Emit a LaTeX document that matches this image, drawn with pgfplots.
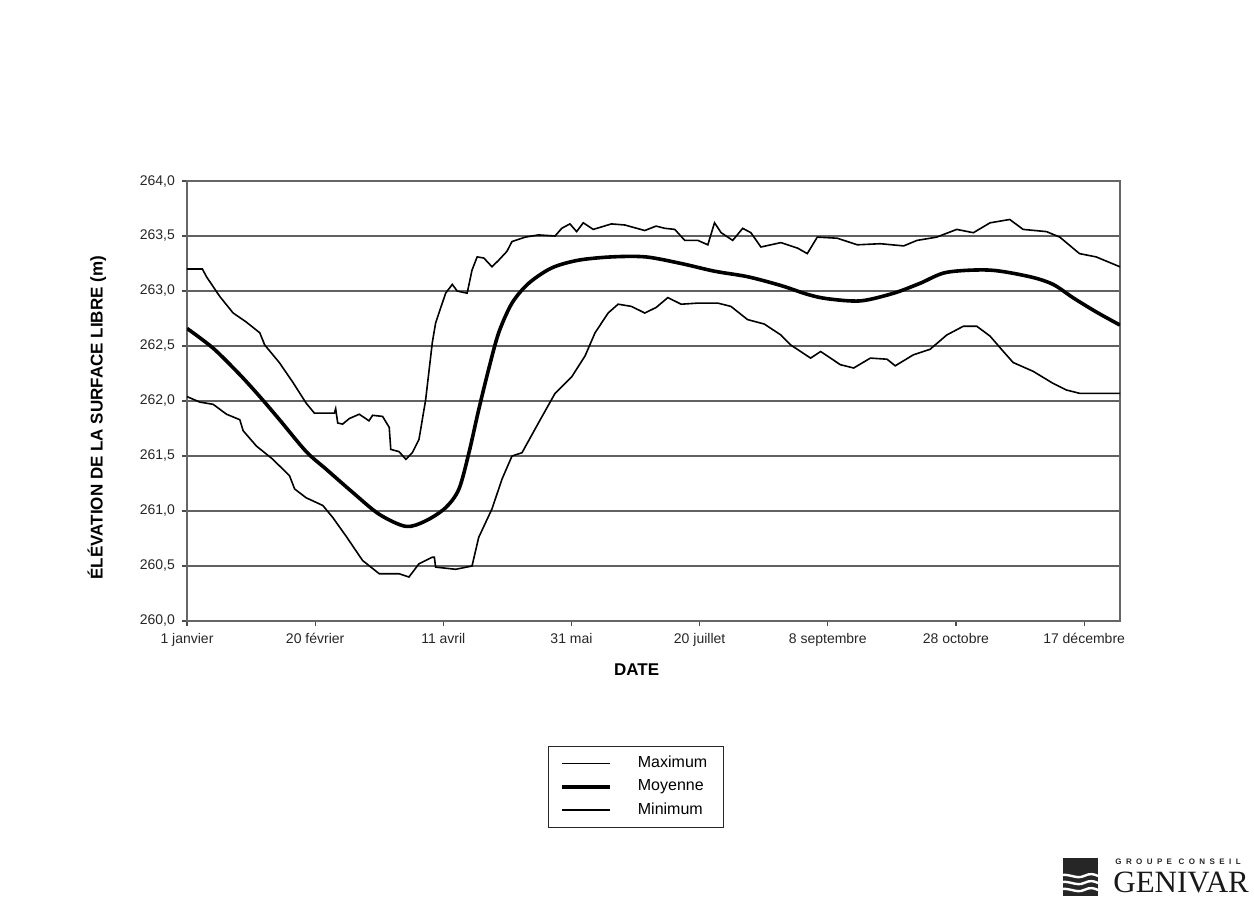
\documentclass[border=0pt]{standalone}
\usepackage{fontspec}
\setmainfont{Liberation Sans}
\newfontfamily\seriflogo{Liberation Serif}
\usepackage{pgfplots}
\pgfplotsset{compat=1.18}
\begin{document}
\begin{tikzpicture}
\useasboundingbox (0,0) rectangle (627pt,448pt);
\begin{axis}[
  at={(93.5pt,137.5pt)}, anchor=south west,
  width=466.5pt, height=220pt, scale only axis,
  xmin=1, xmax=365, ymin=260, ymax=264,
  xtick={1,51,101,151,201,251,301,351},
  xticklabels={1 janvier,20 février,11 avril,31 mai,20 juillet,8 septembre,28 octobre,17 décembre},
  ytick={260,260.5,261,261.5,262,262.5,263,263.5,264},
  yticklabel style={/pgf/number format/.cd,fixed,fixed zerofill,precision=1,use comma},
  /pgf/number format/assume math mode=true,
  tick label style={font=\fontsize{7}{8}\selectfont, black!85},
  tick align=outside, major tick length=2.5pt,
  tick style={black!70, line width=0.6pt},
  xtick pos=bottom, ytick pos=left,
  ymajorgrids, major grid style={black!62, line width=0.9pt},
  axis line style={black!60, line width=0.6pt},
  xlabel={DATE},
  ylabel={ÉLÉVATION DE LA SURFACE LIBRE (m)},
  label style={font=\bfseries\fontsize{8.5}{10}\selectfont},
  xlabel style={at={(axis description cs:0.482,-0.111)}, anchor=center},
  ylabel style={at={(axis description cs:-0.0965,0.462)}, anchor=center},
  legend style={at={(0.481,-0.377)}, anchor=center, draw=black!85, line width=0.6pt,
    font=\fontsize{8}{10}\selectfont, inner xsep=6pt, inner ysep=3pt, row sep=0.5pt,
    /tikz/every odd column/.append style={column sep=11pt}},
  legend cell align=left,
  legend image code/.code={\draw[#1] (0pt,0pt) -- (24pt,0pt);},
]
\addplot[black, line width=0.8pt] coordinates {
(1,263.20) (7,263.20) (8.6,263.13) (13.8,262.95) (19,262.80) (24,262.72) (29.4,262.62) (31.3,262.51) (37,262.35) (42.3,262.17) (47.5,261.98) (50.7,261.89) (58.5,261.89) (59,261.93) (59.8,261.80) (61.7,261.79) (64.3,261.84) (68.2,261.88) (72,261.82) (73.4,261.87) (77.3,261.86) (79.9,261.76) (80.5,261.56) (83.7,261.54) (86.4,261.47) (88.9,261.53) (91.5,261.65) (94.1,262.01) (96.7,262.53) (98,262.71) (100.6,262.89) (101.9,262.98) (104.5,263.06) (106.4,263.00) (110.3,262.98) (112.2,263.19) (114.2,263.31) (116.8,263.30) (120,263.22) (122.6,263.28) (125.8,263.36) (127.8,263.45) (133,263.49) (138.1,263.51) (144.6,263.50) (147.2,263.57) (150.4,263.61) (153,263.54) (155.6,263.62) (159.5,263.56) (166.6,263.61) (171.8,263.60) (179.6,263.55) (184,263.59) (187.4,263.57) (191.3,263.56) (195.2,263.46) (200.3,263.46) (204.2,263.42) (206.8,263.62) (209.4,263.53) (213.9,263.46) (217.8,263.57) (221,263.53) (224.9,263.40) (232.7,263.44) (239.2,263.39) (243,263.34) (246.9,263.49) (254.7,263.48) (262.5,263.42) (271.5,263.43) (280.6,263.41) (285.8,263.46) (293.5,263.49) (301.3,263.56) (307.8,263.53) (314.3,263.62) (322,263.65) (327.2,263.56) (336.3,263.54) (341.5,263.49) (349.2,263.34) (355.7,263.31) (365,263.22)
};
\addlegendentry{Maximum}
\addplot[black, line width=1.8pt, smooth] coordinates {
(1,262.66) (11.2,262.48) (21.6,262.24) (29.4,262.04) (37.1,261.83) (47.5,261.54) (55.3,261.38) (65.6,261.17) (76,260.97) (86.4,260.86) (94.1,260.91) (101.9,261.03) (107.1,261.20) (111,261.53) (114.8,261.92) (118.7,262.29) (122.6,262.62) (127.8,262.89) (134.3,263.07) (143.3,263.21) (153.7,263.28) (166.6,263.31) (180,263.31) (193.8,263.25) (206.8,263.18) (219.7,263.13) (232.7,263.05) (243,262.97) (250.8,262.93) (263.7,262.91) (276.7,262.98) (287,263.07) (297.4,263.17) (314.3,263.19) (329.8,263.13) (338.9,263.06) (346.6,262.94) (355.7,262.81) (365,262.69)
};
\addlegendentry{Moyenne}
\addplot[black, line width=0.8pt] coordinates {
(1,262.04) (6,261.99) (11.2,261.97) (16.4,261.88) (21.6,261.83) (22.9,261.73) (28.1,261.59) (34.5,261.47) (41,261.32) (43,261.20) (47.5,261.12) (54,261.05) (57.9,260.94) (63.1,260.77) (69.5,260.55) (76,260.43) (83.7,260.43) (87.6,260.40) (91.5,260.52) (96.7,260.58) (97.5,260.58) (98,260.49) (105.8,260.47) (112.2,260.50) (114.8,260.76) (120,261.02) (123.9,261.29) (127.8,261.50) (131.7,261.53) (138.1,261.80) (144.6,262.07) (151.1,262.22) (156.3,262.41) (160.2,262.62) (165.3,262.80) (169.2,262.88) (174.4,262.86) (179.6,262.80) (184,262.85) (188.6,262.94) (193.8,262.88) (200.3,262.89) (208.1,262.89) (213.2,262.86) (219.7,262.74) (226.2,262.70) (232.7,262.60) (236.5,262.51) (244.3,262.39) (248.2,262.45) (255.9,262.33) (261.1,262.30) (267.6,262.39) (274.1,262.38) (277.3,262.32) (284.4,262.42) (290.9,262.47) (297.4,262.60) (303.9,262.68) (309.1,262.68) (314.3,262.59) (319.5,262.45) (323.3,262.35) (331.1,262.27) (338.9,262.16) (344.1,262.10) (349.2,262.07) (365,262.07)
};
\addlegendentry{Minimum}
\end{axis}
% logo
\fill[black!85] (531.5pt,0pt) rectangle (549pt,19pt);
\foreach \yy in {3,6.5,10} {
  \draw[white, line width=1.2pt] (529pt,\yy pt) .. controls (534pt,\yy pt+2pt) and (538pt,\yy pt-2pt) .. (542pt,\yy pt) .. controls (545pt,\yy pt+1.5pt) and (547pt,\yy pt+1pt) .. (549pt,\yy pt);
}
\node[anchor=base west, inner sep=0pt, font=\bfseries\fontsize{4}{4}\selectfont\addfontfeature{LetterSpace=55}, black!85] at (557.5pt,16pt) {GROUPE CONSEIL};
\node[anchor=base west, inner sep=0pt, font=\seriflogo\fontsize{15.5}{16}\selectfont, black!90] at (556.5pt,2pt) {GENIVAR};
\end{tikzpicture}
\end{document}
